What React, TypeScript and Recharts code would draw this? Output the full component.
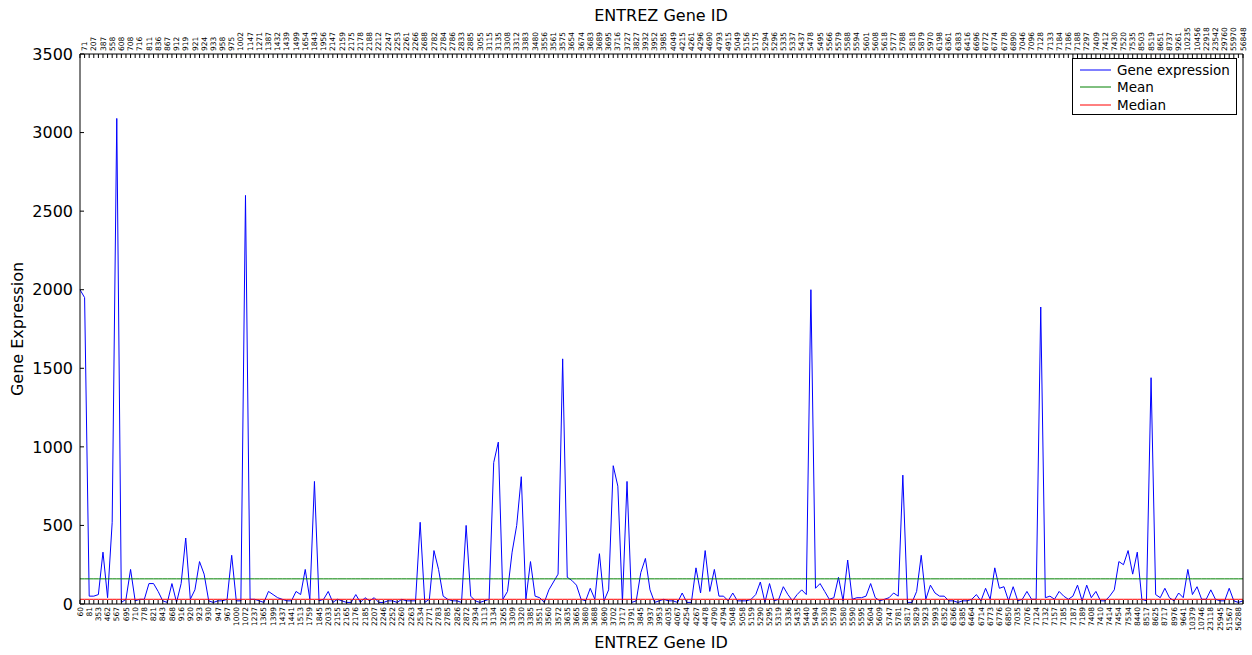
import React from 'react';
import { LineChart, Line, XAxis, YAxis, Legend } from 'recharts';

const bottomIds = [
  '60', '81', '353', '462', '567', '695', '710', '778', '821',
  '843', '868', '916', '920', '923', '930', '947', '967', '1000', '1072',
  '1237', '1365', '1399', '1437', '1441', '1513', '1759', '1845', '2033', '2155',
  '2165', '2176', '2185', '2207', '2246', '2252', '2260', '2263', '2534', '2771',
  '2783', '2785', '2826', '2872', '2934', '3113', '3134', '3265', '3309', '3320',
  '3385', '3551', '3560', '3572', '3635', '3665', '3680', '3688', '3690', '3702',
  '3717', '3791', '3845', '3937', '3953', '4035', '4067', '4254', '4267', '4478',
  '4790', '4794', '5048', '5058', '5159', '5290', '5295', '5319', '5336', '5435',
  '5440', '5494', '5530', '5578', '5580', '5590', '5595', '5604', '5609', '5747',
  '5781', '5817', '5829', '5923', '5993', '6352', '6366', '6385', '6464', '6714',
  '6773', '6776', '6850', '7035', '7076', '7124', '7132', '7157', '7185', '7187',
  '7189', '7408', '7410', '7414', '7454', '7534', '8440', '8517', '8625', '8717',
  '8976', '9641', '10379', '10746', '23118', '25945', '51567', '56288',
];

const topIds = [
  '71', '207', '387', '558', '608', '708', '716', '811', '836', '867',
  '912', '919', '921', '924', '933', '958', '975', '1002', '1147', '1271',
  '1387', '1432', '1439', '1499', '1654', '1843', '1956', '2147', '2159', '2175',
  '2178', '2188', '2212', '2247', '2253', '2261', '2266', '2688', '2782', '2784',
  '2786', '2833', '2885', '3055', '3115', '3135', '3308', '3312', '3383', '3480',
  '3556', '3561', '3575', '3654', '3674', '3683', '3689', '3695', '3716', '3727',
  '3827', '3932', '3952', '3985', '4049', '4215', '4261', '4296', '4690', '4793',
  '4915', '5049', '5156', '5175', '5294', '5296', '5335', '5337', '5437', '5478',
  '5495', '5566', '5579', '5588', '5594', '5601', '5608', '5618', '5777', '5788',
  '5818', '5879', '5970', '6198', '6361', '6383', '6416', '6696', '6772', '6774',
  '6778', '6890', '7046', '7096', '7128', '7133', '7184', '7186', '7188', '7297',
  '7409', '7412', '7430', '7520', '7535', '8503', '8519', '8651', '8737', '9261',
  '10235', '10456', '22918', '23542', '29760', '55970', '56848',
];

const expression = [
  2000, 1950, 50, 50, 60, 330, 40, 520, 3090, 10,
  30, 220, 20, 30, 30, 130, 130, 80, 20, 10,
  130, 10, 130, 420, 30, 90, 270, 190, 20, 10,
  20, 20, 30, 310, 20, 20, 2600, 30, 30, 20,
  10, 80, 60, 40, 30, 20, 20, 80, 60, 220,
  30, 780, 20, 30, 80, 10, 30, 20, 10, 10,
  60, 10, 40, 20, 40, 10, 10, 20, 20, 10,
  30, 20, 20, 20, 520, 10, 30, 340, 220, 50,
  30, 20, 20, 10, 500, 50, 20, 10, 20, 30,
  900, 1030, 30, 80, 330, 500, 810, 30, 270, 50,
  40, 10, 90, 140, 190, 1560, 170, 150, 120, 30,
  20, 100, 30, 320, 20, 90, 880, 750, 10, 780,
  10, 20, 200, 290, 90, 10, 20, 30, 20, 20,
  10, 70, 10, 10, 230, 70, 340, 80, 220, 50,
  50, 20, 70, 20, 20, 20, 30, 60, 140, 10,
  130, 20, 30, 110, 60, 20, 60, 90, 60, 2000,
  100, 130, 80, 30, 40, 170, 20, 280, 30, 40,
  40, 50, 130, 40, 20, 30, 40, 70, 50, 820,
  10, 10, 80, 310, 30, 120, 70, 50, 50, 20,
  20, 10, 20, 20, 30, 60, 20, 100, 30,
  230, 100, 110, 20, 110, 20, 30, 80, 30, 30,
  1890, 40, 50, 30, 80, 50, 30, 50, 120, 20,
  120, 40, 80, 20, 20, 50, 90, 270, 250, 340,
  190, 330, 30, 20, 1440, 60, 40, 100, 40, 20,
  70, 40, 220, 60, 110, 30, 30, 90, 30, 20,
  20, 100, 20, 10, 20,
];

const meanValue = 160;
const medianValue = 30;
const yTicks = [0, 500, 1000, 1500, 2000, 2500, 3000, 3500];

const geneIds: string[] = [];
for (let k = 0; k < bottomIds.length; k++) {
  geneIds.push(bottomIds[k]);
  if (k < topIds.length) geneIds.push(topIds[k]);
}

const data = geneIds.map((id, i) => ({
  id,
  value: expression[i],
  mean: meanValue,
  median: medianValue,
}));

const FONT = '"DejaVu Sans", sans-serif';

const BottomTick = (props: any) => {
  const { x, y, payload, index } = props;
  const idx = payload && typeof payload.index === 'number' ? payload.index : index;
  return (
    <g>
      <line x1={x} x2={x} y1={y} y2={y - 4} stroke="#000" strokeWidth={1} />
      {idx % 2 === 0 && (
        <text
          transform={`translate(${x + 2.6},${y + 3}) rotate(-90)`}
          textAnchor="end"
          fontSize={7.5}
          fontFamily={FONT}
          fill="#000"
        >
          {payload.value}
        </text>
      )}
    </g>
  );
};

const TopTick = (props: any) => {
  const { x, y, payload, index } = props;
  const idx = payload && typeof payload.index === 'number' ? payload.index : index;
  return (
    <g>
      <line x1={x} x2={x} y1={y} y2={y + 4} stroke="#000" strokeWidth={1} />
      {idx % 2 === 1 && (
        <text
          transform={`translate(${x + 2.6},${y - 3}) rotate(-90)`}
          textAnchor="start"
          fontSize={7.5}
          fontFamily={FONT}
          fill="#000"
        >
          {payload.value}
        </text>
      )}
    </g>
  );
};

const LeftTick = (props: any) => {
  const { x, y, payload } = props;
  return (
    <g>
      <line x1={x} x2={x + 4} y1={y} y2={y} stroke="#000" strokeWidth={1} />
      <text x={x - 7} y={y} dy="0.36em" textAnchor="end" fontSize={16} fontFamily={FONT} fill="#000">
        {payload.value}
      </text>
    </g>
  );
};

const RightTick = (props: any) => {
  const { x, y } = props;
  return <line x1={x} x2={x - 4} y1={y} y2={y} stroke="#000" strokeWidth={1} />;
};

const legendItems = [
  { label: 'Gene expression', color: '#0000ff' },
  { label: 'Mean', color: '#008000' },
  { label: 'Median', color: '#ff0000' },
];

const LegendBox = () => (
  <div
    style={{
      width: 165,
      height: 57,
      border: '1px solid #000',
      boxSizing: 'border-box',
      background: '#fff',
      position: 'relative',
      fontFamily: FONT,
      fontSize: 13.5,
      color: '#000',
    }}
  >
    {legendItems.map((it, i) => (
      <div
        key={it.label}
        style={{
          position: 'absolute',
          left: 7,
          top: 1.5 + i * 17.8,
          height: 18,
          display: 'flex',
          alignItems: 'center',
          whiteSpace: 'nowrap',
        }}
      >
        <svg width={31} height={4} style={{ display: 'block' }}>
          <line x1={0} x2={31} y1={2} y2={2} stroke={it.color} strokeWidth={1} />
        </svg>
        <span style={{ marginLeft: 6, lineHeight: '18px' }}>{it.label}</span>
      </div>
    ))}
  </div>
);

export default function App() {
  return (
    <div style={{ position: 'absolute', left: 0, top: 0, width: 1252, height: 655, background: '#fff' }}>
      <LineChart width={1252} height={655} data={data} margin={{ top: 0, right: 0, bottom: 0, left: 0 }}>
        <XAxis
          xAxisId="bottom"
          dataKey="id"
          orientation="bottom"
          height={51}
          interval={0}
          tickLine={false}
          tickSize={0}
          tickMargin={0}
          axisLine={{ stroke: '#000' }}
          tick={<BottomTick />}
        />
        <XAxis
          xAxisId="top"
          dataKey="id"
          orientation="top"
          height={54}
          interval={0}
          tickLine={false}
          tickSize={0}
          tickMargin={0}
          axisLine={{ stroke: '#000' }}
          tick={<TopTick />}
        />
        <YAxis
          yAxisId="left"
          orientation="left"
          width={80}
          domain={[0, 3500]}
          ticks={yTicks}
          interval={0}
          tickLine={false}
          tickSize={0}
          tickMargin={0}
          axisLine={{ stroke: '#000' }}
          tick={<LeftTick />}
        />
        <YAxis
          yAxisId="right"
          orientation="right"
          width={9}
          domain={[0, 3500]}
          ticks={yTicks}
          interval={0}
          tickLine={false}
          tickSize={0}
          tickMargin={0}
          axisLine={{ stroke: '#000' }}
          tick={<RightTick />}
        />
        <Line
          xAxisId="bottom"
          yAxisId="left"
          type="linear"
          dataKey="value"
          stroke="#0000ff"
          strokeWidth={1}
          dot={false}
          activeDot={false}
          isAnimationActive={false}
        />
        <Line
          xAxisId="bottom"
          yAxisId="left"
          type="linear"
          dataKey="mean"
          stroke="#008000"
          strokeWidth={1}
          dot={false}
          activeDot={false}
          isAnimationActive={false}
        />
        <Line
          xAxisId="bottom"
          yAxisId="left"
          type="linear"
          dataKey="median"
          stroke="#ff0000"
          strokeWidth={1}
          dot={false}
          activeDot={false}
          isAnimationActive={false}
        />
        <Legend
          layout="vertical"
          align="center"
          verticalAlign="middle"
          wrapperStyle={{ left: 1072, top: 58, width: 165, height: 57 }}
          content={() => <LegendBox />}
        />
      </LineChart>
      <div
        style={{
          position: 'absolute',
          left: 661,
          top: 15,
          transform: 'translate(-50%, -50%)',
          fontFamily: FONT,
          fontSize: 16,
          whiteSpace: 'nowrap',
          color: '#000',
        }}
      >
        ENTREZ Gene ID
      </div>
      <div
        style={{
          position: 'absolute',
          left: 661,
          top: 642,
          transform: 'translate(-50%, -50%)',
          fontFamily: FONT,
          fontSize: 16,
          whiteSpace: 'nowrap',
          color: '#000',
        }}
      >
        ENTREZ Gene ID
      </div>
      <div
        style={{
          position: 'absolute',
          left: 17,
          top: 329,
          transform: 'translate(-50%, -50%) rotate(-90deg)',
          fontFamily: FONT,
          fontSize: 16,
          whiteSpace: 'nowrap',
          color: '#000',
        }}
      >
        Gene Expression
      </div>
    </div>
  );
}
